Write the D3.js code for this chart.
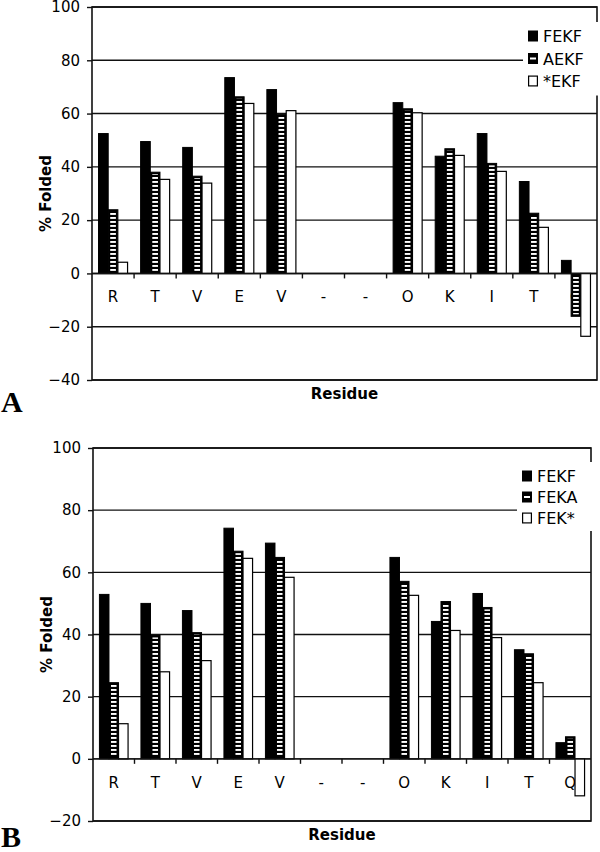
<!DOCTYPE html>
<html>
<head>
<meta charset="utf-8">
<script src="https://cdn.jsdelivr.net/npm/d3@7"></script>
<style>
  html, body { margin: 0; padding: 0; background: #fff; }
  svg { display: block; }
  text { font-family: "DejaVu Sans", Verdana, sans-serif; fill: #000; }
</style>
</head>
<body>
<svg id="chart" width="600" height="852"></svg>
<script>
// ---------- DATA ----------
const residues = ["R", "T", "V", "E", "V", "-", "-", "O", "K", "I", "T", "Q"];

const seriesNamesA = ["FEKF", "AEKF", "*EKF"];
const fekfA   = [52.5, 49.5, 47.3, 73.5, 69.0, null, null, 64.1, 44.0, 52.5, 34.5, 4.9];
const aekf    = [23.9, 38.0, 36.5, 66.3, 59.6, null, null, 61.8, 46.8, 41.3, 22.6, -16.1];
const starEkf = [4.2, 35.3, 33.9, 63.8, 61.1, null, null, 60.3, 44.3, 38.3, 17.3, -23.6];

const seriesNamesB = ["FEKF", "FEKA", "FEK*"];
const fekfB   = [52.9, 50.0, 47.7, 74.2, 69.4, null, null, 64.8, 44.2, 53.2, 35.1, 5.2];
const feka    = [24.5, 39.7, 40.6, 66.8, 64.8, null, null, 57.1, 50.6, 48.7, 33.8, 7.1];
const fekStar = [11.3, 28.0, 31.6, 64.5, 58.4, null, null, 52.6, 41.3, 39.0, 24.5, -11.9];

const yTicksA = [-40, -20, 0, 20, 40, 60, 80, 100];
const yTicksB = [-20, 0, 20, 40, 60, 80, 100];

const yTitle = "% Folded";
const xTitle = "Residue";

// ---------- DRAW ----------
const svg = d3.select("#chart");
const styles = ["solid", "striped", "open"];

// stripe pattern (white horizontal dashes)
const defs = svg.append("defs");
const pat = defs.append("pattern")
  .attr("id", "stripes")
  .attr("patternUnits", "userSpaceOnUse")
  .attr("width", 20).attr("height", 4);
pat.append("rect").attr("x", 0).attr("y", 1).attr("width", 20).attr("height", 1.9).attr("fill", "#fff");

function drawPanel(opt) {
  const g = svg.append("g");
  const { left, right, top, bottom } = opt;
  const w = right - left;
  const idx = d3.range(residues.length);

  const x0 = d3.scaleBand().domain(idx).range([left, right]).padding(0);
  const bw = x0.bandwidth();
  const x1 = d3.scaleBand().domain(d3.range(opt.series.length))
    .range([bw * 0.155, bw * 0.845]).padding(0);
  const y = d3.scaleLinear().domain(opt.yDomain).range([bottom, top]);

  // gridlines
  g.append("g").selectAll("line").data(opt.yTicks).join("line")
    .attr("x1", left).attr("x2", right)
    .attr("y1", d => y(d)).attr("y2", d => y(d))
    .attr("stroke", "#111").attr("stroke-width", 1.4);

  // y axis ticks + labels
  const ya = g.append("g").attr("transform", `translate(${left},0)`)
    .call(d3.axisLeft(y).tickValues(opt.yTicks).tickSize(5).tickPadding(7).tickFormat(d3.format("d")));
  ya.select(".domain").remove();
  ya.selectAll("line").attr("stroke", "#111").attr("stroke-width", 1.4);
  ya.selectAll("text").attr("font-size", 15).attr("font-family", "DejaVu Sans").attr("fill", "#000");

  // x axis: boundary ticks at zero line
  const y0 = y(0);
  g.append("g").selectAll("line").data(d3.range(1, residues.length)).join("line")
    .attr("x1", d => x0(d)).attr("x2", d => x0(d))
    .attr("y1", y0).attr("y2", y0 + 5)
    .attr("stroke", "#111").attr("stroke-width", 1.4);

  // category labels
  g.append("g").selectAll("text").data(idx).join("text")
    .attr("x", d => x0(d) + bw / 2)
    .attr("y", y0 + opt.labelOffset)
    .attr("text-anchor", "middle")
    .attr("font-size", 15)
    .text(d => residues[d]);

  // bars
  opt.series.forEach((vals, s) => {
    const bars = idx.filter(i => vals[i] !== null).map(i => ({ i, v: vals[i] }));
    const bx = d => x0(d.i) + x1(s);
    const by = d => y(Math.max(0, d.v));
    const bh = d => Math.abs(y(d.v) - y(0));
    const bwid = x1.bandwidth();
    const gs = g.append("g");
    if (styles[s] === "solid") {
      gs.selectAll("rect").data(bars).join("rect")
        .attr("x", bx).attr("y", by).attr("width", bwid).attr("height", bh)
        .attr("fill", "#000").attr("stroke", "#000").attr("stroke-width", 1);
    } else if (styles[s] === "striped") {
      gs.selectAll("rect.base").data(bars).join("rect").attr("class", "base")
        .attr("x", bx).attr("y", by).attr("width", bwid).attr("height", bh)
        .attr("fill", "#000").attr("stroke", "#000").attr("stroke-width", 1);
      gs.selectAll("rect.str").data(bars).join("rect").attr("class", "str")
        .attr("x", d => bx(d) + 2).attr("y", d => by(d) + 2)
        .attr("width", bwid - 4).attr("height", d => Math.max(0, bh(d) - 4))
        .attr("fill", "url(#stripes)");
    } else {
      gs.selectAll("rect").data(bars).join("rect")
        .attr("x", bx).attr("y", by).attr("width", bwid).attr("height", bh)
        .attr("fill", "#fff").attr("stroke", "#000").attr("stroke-width", 1.2);
    }
  });

  // zero axis line
  g.append("line").attr("x1", left).attr("x2", right).attr("y1", y0).attr("y2", y0)
    .attr("stroke", "#111").attr("stroke-width", 1.4);

  // plot border
  g.append("rect").attr("x", left).attr("y", top).attr("width", w).attr("height", bottom - top)
    .attr("fill", "none").attr("stroke", "#111").attr("stroke-width", 1.6);

  // legend
  const lg = g.append("g");
  lg.append("rect").attr("x", opt.legend.x - 5).attr("y", opt.legend.y - 14)
    .attr("width", 600 - opt.legend.x + 5).attr("height", opt.legend.dy * 3 + 6)
    .attr("fill", "#fff");
  opt.names.forEach((name, s) => {
    const cy = opt.legend.y + s * opt.legend.dy;
    const sx = opt.legend.x;
    if (styles[s] === "solid") {
      lg.append("rect").attr("x", sx).attr("y", cy - 5.5).attr("width", 10).attr("height", 11)
        .attr("fill", "#000");
    } else if (styles[s] === "striped") {
      lg.append("rect").attr("x", sx).attr("y", cy - 5.5).attr("width", 10).attr("height", 11)
        .attr("fill", "#000");
      lg.append("rect").attr("x", sx + 2).attr("y", cy - 1).attr("width", 6).attr("height", 2)
        .attr("fill", "#fff");
    } else {
      lg.append("rect").attr("x", sx + 0.6).attr("y", cy - 4.9).attr("width", 8.8).attr("height", 9.8)
        .attr("fill", "#fff").attr("stroke", "#000").attr("stroke-width", 1.2);
    }
    lg.append("text").attr("x", sx + 15).attr("y", cy + 6)
      .attr("font-size", 16).text(name);
  });

  // axis titles
  g.append("text")
    .attr("transform", `translate(${opt.yTitleX},${(top + bottom) / 2}) rotate(-90)`)
    .attr("text-anchor", "middle").attr("dominant-baseline", "central")
    .attr("font-size", 15).attr("font-weight", "bold").text(yTitle);
  g.append("text")
    .attr("x", (left + right) / 2).attr("y", bottom + 19)
    .attr("text-anchor", "middle")
    .attr("font-size", 15).attr("font-weight", "bold").text(xTitle);

  // panel letter
  g.append("text").attr("x", 1).attr("y", opt.letterY)
    .style("font-family", "'Liberation Serif', 'Times New Roman', serif")
    .attr("font-size", 30).attr("font-weight", "bold").text(opt.letter);
}

drawPanel({
  left: 92, right: 597, top: 7, bottom: 380,
  yDomain: [-40, 100], yTicks: yTicksA,
  series: [fekfA, aekf, starEkf], names: seriesNamesA,
  legend: { x: 528, y: 36, dy: 22.5 },
  labelOffset: 29, yTitleX: 46, letter: "A", letterY: 412
});

drawPanel({
  left: 93, right: 591, top: 448, bottom: 821,
  yDomain: [-20, 100], yTicks: yTicksB,
  series: [fekfB, feka, fekStar], names: seriesNamesB,
  legend: { x: 522, y: 476, dy: 21 },
  labelOffset: 29, yTitleX: 47, letter: "B", letterY: 847
});
</script>
</body>
</html>
